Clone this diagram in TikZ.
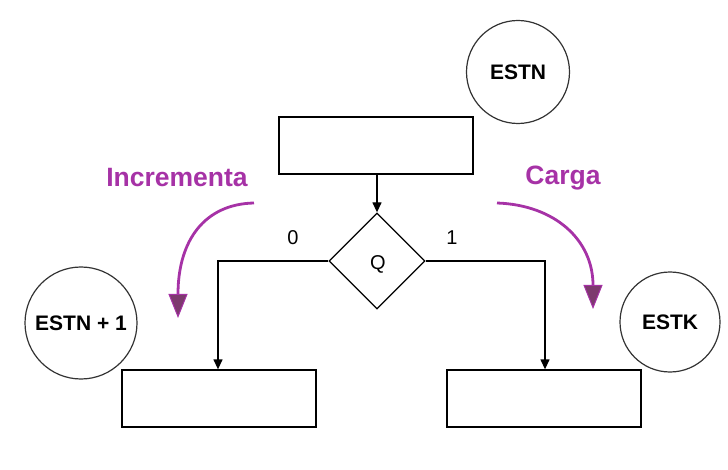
\documentclass[tikz,border=0pt]{standalone}
\usepackage{fontspec}
\setmainfont{Liberation Sans}
\usetikzlibrary{shapes.geometric,arrows.meta}
\definecolor{purp}{RGB}{166,50,166}
\definecolor{purpdark}{RGB}{125,58,110}
\tikzset{
  box/.style={draw=black,line width=1.3pt,minimum width=194pt,minimum height=57pt,inner sep=0pt},
  state/.style={draw=black!80,line width=1.2pt,circle,inner sep=0pt,font=\fontsize{21}{25}\selectfont\bfseries},
  conn/.style={line width=1.3pt,-{Triangle[length=10pt,width=9pt]}},
  plain/.style={line width=1.3pt},
  lbl/.style={font=\fontsize{26.5}{31}\selectfont\bfseries,text=purp},
  num/.style={font=\fontsize{20}{24}\selectfont},
  parrow/.style={draw=purp,line width=2.8pt,-{Triangle[length=24pt,width=19pt,fill=purpdark,line width=1pt]}}
}
\begin{document}
\begin{tikzpicture}[x=1pt,y=-1pt]
\useasboundingbox (0,0) rectangle (728,470);
\node[state,minimum size=103pt] (estn) at (518,72) {ESTN};
\node[state,minimum size=112pt] (estn1) at (81,323) {ESTN + 1};
\node[state,minimum size=100pt] (estk) at (670,322) {ESTK};
\node[box] (top) at (376,145.5) {};
\node[draw=black,line width=1.3pt,diamond,minimum width=96pt,minimum height=96pt,inner sep=0pt] (q) at (377,261) {};
\node[num] (qt) at (378,264) {Q};
\node[box] (left) at (219,398.5) {};
\node[box] (right) at (544,398.5) {};
\coordinate (lc) at (218,261);
\coordinate (rc) at (545,261);
\draw[conn] (top.south -| q.north) -- (q.north);
\draw[conn] (q.west) -- (lc) -- (lc |- left.north);
\draw[conn] (q.east) -- (rc) -- (rc |- right.north);
\node[num] (n0) at (293,238) {0};
\node[num] (n1) at (452,238) {1};
\node[lbl] (inc) at (177,178) {Incrementa};
\node[lbl] (car) at (563,178) {Carga};
\coordinate (is) at (254,203);
\coordinate (ie) at (178,318);
\coordinate (cs) at (497,203);
\coordinate (ce) at (593,309);
\draw[parrow] (is) .. controls (205,204) and (178,240) .. (ie);
\draw[parrow] (cs) .. controls (555,205) and (593,240) .. (ce);
\end{tikzpicture}
\end{document}
